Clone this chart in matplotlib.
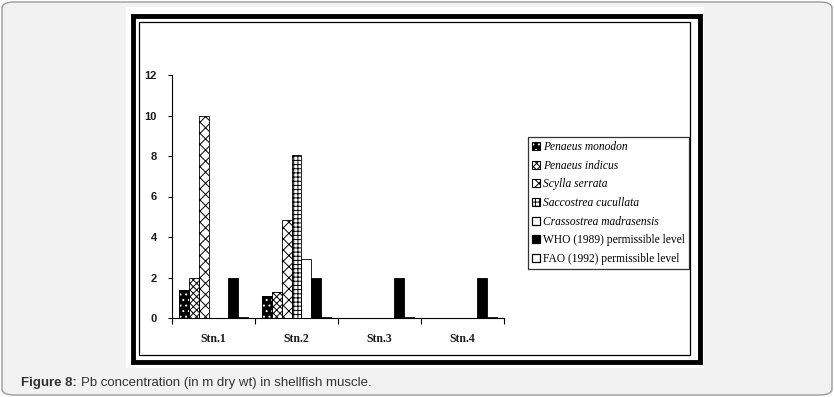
import numpy as np
import matplotlib
matplotlib.use("Agg")
import matplotlib.pyplot as plt
from matplotlib.patches import Patch, Rectangle, FancyBboxPatch

# data
stations = ["Stn.1", "Stn.2", "Stn.3", "Stn.4"]
legend_labels = ["Penaeus monodon", "Penaeus indicus", "Scylla serrata",
                 "Saccostrea cucullata", "Crassostrea madrasensis",
                 "WHO (1989) permissible level", "FAO (1992) permissible level"]
monodon = [1.4, 1.1, 0, 0]
indicus = [2.0, 1.3, 0, 0]
scylla = [10.0, 4.85, 0, 0]
saccostrea = [0, 8.05, 0, 0]
crassostrea = [0, 2.9, 0, 0]
who = [2, 2, 2, 2]
fao = [0.05, 0.05, 0.05, 0.05]
values = [monodon, indicus, scylla, saccostrea, crassostrea, who, fao]
yticks = [0, 2, 4, 6, 8, 10, 12]

# styles: (face colour, hatch, hatch colour)
styles = [("black", "...", "white"),
          ("white", "xxxxx", "black"),
          ("white", "xxx", "black"),
          ("white", "++++", "black"),
          ("white", None, "black"),
          ("black", None, "black"),
          ("white", None, "black")]
italic = [True, True, True, True, True, False, False]

plt.rcParams["hatch.linewidth"] = 0.7

W, H = 834, 397
fig = plt.figure(figsize=(W / 100, H / 100), dpi=100)
fig.patch.set_facecolor("white")


def px(x, y):
    return x / W, 1 - y / H


# page background with rounded border
bg = FancyBboxPatch(px(2, 395), 830 / W, 393 / H,
                    boxstyle="round,pad=0,rounding_size=0.015",
                    transform=fig.transFigure, facecolor="#f2f2f2",
                    edgecolor="#9a9a9a", linewidth=1.0, zorder=0)
fig.patches.append(bg)
# white chart panel with double black frame
fig.patches.append(Rectangle(px(126, 368), 578 / W, 361 / H, transform=fig.transFigure,
                             facecolor="white", edgecolor="none", zorder=1))
fig.patches.append(Rectangle(px(132.5, 362), 567 / W, 346.5 / H, transform=fig.transFigure,
                             facecolor="none", edgecolor="black", linewidth=3.5, zorder=2))
fig.patches.append(Rectangle(px(139, 354.5), 551 / W, 332.5 / H, transform=fig.transFigure,
                             facecolor="none", edgecolor="black", linewidth=0.9, zorder=2))

ax = fig.add_axes([172 / W, 79 / H, 332 / W, 243 / H])
ax.set_facecolor("none")
ax.set_zorder(5)

x = np.arange(len(stations))
n = len(values)
width = 0.118
handles = []
for i, (vals, (fc, hatch, hc)) in enumerate(zip(values, styles)):
    pos = x + (i - (n - 1) / 2) * width
    ax.bar(pos, vals, width, color=fc, edgecolor=hc if hatch else "black",
           hatch=hatch, linewidth=0 if hatch else 0.6, zorder=3)
    if hatch:
        ax.bar(pos, vals, width, fill=False, edgecolor="black", linewidth=0.6, zorder=4)
    h_fill = Patch(facecolor=fc, edgecolor=hc if hatch else "black", hatch=hatch,
                   linewidth=0 if hatch else 0.8)
    h_edge = Patch(fill=False, edgecolor="black", linewidth=0.8)
    handles.append((h_fill, h_edge))

ax.set_xlim(-0.5, 3.5)
ax.set_ylim(0, 12)
ax.set_yticks(yticks)
ax.set_yticklabels([str(t) for t in yticks], fontfamily="Liberation Sans",
                   fontweight="bold", fontsize=8, color="#1a1a1a")
ax.set_xticks(x)
ax.set_xticklabels(stations, fontfamily="Liberation Serif", fontweight="bold",
                   fontsize=8.5, color="#1a1a1a")
ax.set_xticks(np.arange(-0.5, 4, 1), minor=True)
ax.tick_params(axis="x", which="major", length=0, pad=11)
ax.tick_params(axis="x", which="minor", length=4, width=0.8, direction="out")
ax.tick_params(axis="y", length=3, width=0.8, direction="out", pad=8)
for s in ["top", "right"]:
    ax.spines[s].set_visible(False)
for s in ["left", "bottom"]:
    ax.spines[s].set_linewidth(0.8)

leg = fig.legend(handles, legend_labels, loc="upper left",
                 bbox_to_anchor=px(528, 137), bbox_transform=fig.transFigure,
                 frameon=True, fancybox=False, borderpad=0.35, labelspacing=0.58,
                 handlelength=0.7, handleheight=0.7, handletextpad=0.25,
                 borderaxespad=0, prop={"family": "Liberation Serif", "size": 8.3})
leg.set_zorder(6)
leg.get_frame().set_edgecolor("black")
leg.get_frame().set_linewidth(0.9)
for t, it in zip(leg.get_texts(), italic):
    if it:
        t.set_fontstyle("italic")

# caption: bold label then plain text right after it
cap1 = fig.text(21 / W, 1 - 383 / H, "Figure 8:", fontfamily="Liberation Sans",
                fontweight="bold", fontsize=9.5, color="#333333", va="center")
renderer = fig.canvas.get_renderer()
x_end = cap1.get_window_extent(renderer).x1
fig.text((x_end + 4) / W, 1 - 383 / H, "Pb concentration (in m dry wt) in shellfish muscle.",
         fontfamily="Liberation Sans", fontsize=9.5, color="#333333", va="center")

fig.savefig("out.png", dpi=100)
